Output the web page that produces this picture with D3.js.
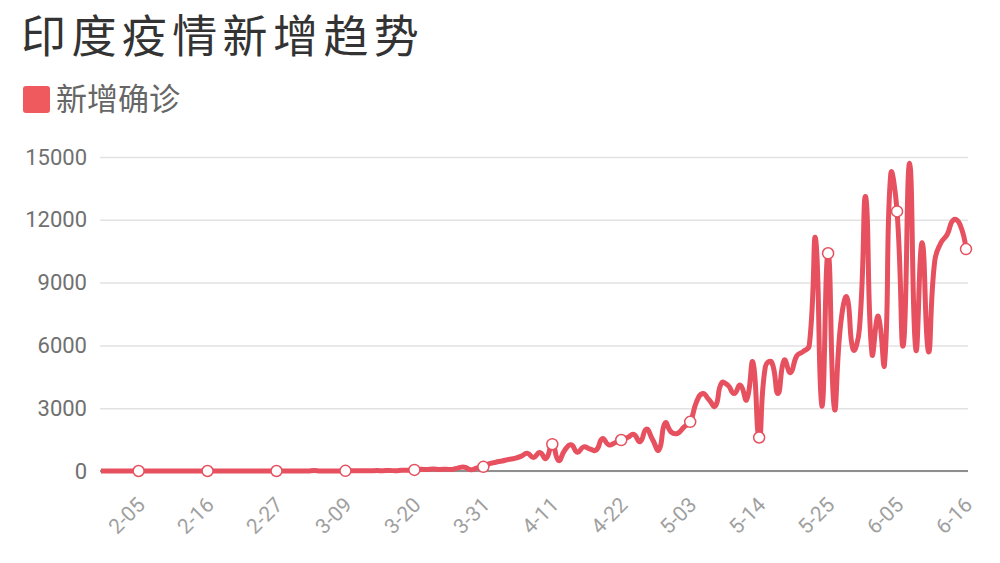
<!DOCTYPE html>
<html>
<head>
<meta charset="utf-8">
<script src="https://cdn.jsdelivr.net/npm/d3@7"></script>
<style>
  body { margin: 0; background: #fff; }
  svg { display: block; }
</style>
</head>
<body>
<svg id="main_chart" width="1000" height="563"></svg>
<script>
const chart_title = '印度疫情新增趋势';
const series_name = '新增确诊';
const first_day = '2020-01-30';
// daily new confirmed cases, one value per day from 1-30 to 6-16
const new_cases = [
  1, 0, 0, 1, 1, 0, 0, 0, 0, 0,
  0, 0, 0, 0, 0, 0, 0, 0, 0, 0,
  0, 0, 0, 0, 0, 0, 0, 0, 0, 0,
  0, 0, 2, 1, 22, 2, 1, 3, 5, 9,
  15, 8, 10, 9, 19, 15, 26, 11, 37, 34,
  50, 78, 69, 94, 74, 86, 75, 150, 180, 60,
  150, 200, 350, 420, 480, 550, 600, 700, 850, 650,
  880, 600, 1280, 500, 1000, 1250, 900, 1150, 1050, 1000,
  1550, 1250, 1350, 1480, 1600, 1750, 1400, 2000, 1500, 1000,
  2300, 1850, 1800, 2100, 2350, 3300, 3700, 3400, 3100, 4200,
  4100, 3700, 4100, 3400, 5200, 1600, 5000, 5200, 3700, 5300,
  4700, 5500, 5700, 6000, 11100, 3100, 10400, 3000, 7000, 8300,
  5800, 6800, 13100, 5600, 7400, 5100, 14200, 12400, 6000, 14700,
  5800, 10900, 5700, 10000, 10900, 11300, 12000, 11800, 10600
];
const tick_labels = ['2-05', '2-16', '2-27', '3-09', '3-20', '3-31', '4-11', '4-22', '5-03', '5-14', '5-25', '6-05', '6-16'];
const y_ticks = [0, 3000, 6000, 9000, 12000, 15000];

// smoothing like the original chart: control points follow the neighbour vector,
// split by segment length, and are kept inside the box of all points
function curveSoft(context) {
  let pts = [];
  return {
    areaStart: function() {},
    areaEnd: function() {},
    lineStart: function() { pts = []; },
    point: function(x, y) { pts.push([+x, +y]); },
    lineEnd: function() {
      const n = pts.length;
      if (!n) return;
      const smooth = 0.5;
      const minY = d3.min(pts, function(p) { return p[1]; });
      const maxY = d3.max(pts, function(p) { return p[1]; });
      const before = [], after = [];
      pts.forEach(function(p, i) {
        if (i === 0 || i === n - 1) {
          before.push(p); after.push(p);
          return;
        }
        const prev = pts[i - 1], next = pts[i + 1];
        const vx = next[0] - prev[0], vy = next[1] - prev[1];
        const d0 = Math.hypot(p[0] - prev[0], p[1] - prev[1]);
        const d1 = Math.hypot(next[0] - p[0], next[1] - p[1]);
        const r = d0 + d1 ? d1 / (d0 + d1) : 0.5;
        const clamp = function(v) { return Math.max(minY, Math.min(maxY, v)); };
        before.push([p[0] - vx * smooth * (1 - r), clamp(p[1] - vy * smooth * (1 - r))]);
        after.push([p[0] + vx * smooth * r, clamp(p[1] + vy * smooth * r)]);
      });
      context.moveTo(pts[0][0], pts[0][1]);
      for (let i = 1; i < n; i++) {
        context.bezierCurveTo(after[i - 1][0], after[i - 1][1], before[i][0], before[i][1], pts[i][0], pts[i][1]);
      }
    }
  };
}

(function() {
  const line_color = '#e6505f';
  const start = d3.timeParse('%Y-%m-%d')(first_day);
  const fmt_day = d3.timeFormat('%-m-%d');
  const days = new_cases.map(function(d, i) {
    return fmt_day(d3.timeDay.offset(start, i));
  });

  const xScale = d3.scalePoint().domain(days).range([101, 966]);
  const yScale = d3.scaleLinear().domain([0, 15000]).range([471, 157]);
  const svg = d3.select('#main_chart');

  svg.append('text').text(chart_title).attr('x', 21).attr('y', 53)
    .attr('font-family', 'Noto Sans CJK SC').attr('font-size', 45)
    .attr('letter-spacing', 5.4).attr('fill', '#333');

  const legend = svg.append('g').attr('id', 'legend');
  legend.append('rect').attr('x', 23).attr('y', 86).attr('width', 27).attr('height', 27)
    .attr('rx', 3).attr('fill', '#ef5a5e');
  legend.append('text').text(series_name).attr('x', 56).attr('y', 110)
    .attr('font-family', 'Noto Sans CJK SC').attr('font-size', 31).attr('fill', '#666');

  // y axis with grid lines
  const y_axis = svg.append('g').attr('transform', 'translate(100,0)')
    .call(d3.axisLeft(yScale).tickValues(y_ticks).tickFormat(d3.format('d')).tickSize(-868).tickPadding(13));
  y_axis.select('.domain').remove();
  y_axis.selectAll('line').attr('stroke', '#e2e2e2').attr('stroke-width', 1.5);
  y_axis.selectAll('text').attr('font-family', 'Roboto').attr('font-size', 22).attr('fill', '#707070');

  // x axis
  const x_axis = svg.append('g').attr('transform', 'translate(0,' + yScale(0) + ')')
    .call(d3.axisBottom(xScale).tickValues(tick_labels).tickSize(0).tickSizeOuter(0));
  x_axis.select('.domain').attr('d', 'M100,0H968').attr('stroke', '#8f8f8f').attr('stroke-width', 2);
  x_axis.selectAll('text').attr('y', 0).attr('dy', '0.35em')
    .attr('transform', 'translate(2,30) rotate(-45)').attr('text-anchor', 'end')
    .attr('font-family', 'Roboto').attr('font-size', 21).attr('fill', '#a0a0a0');

  const trend = d3.line().x(function(d, i) {
    return xScale(days[i]);
  }).y(function(d) {
    return yScale(d);
  }).curve(curveSoft);

  svg.append('path').datum(new_cases).attr('d', trend).attr('fill', 'none')
    .attr('stroke', line_color).attr('stroke-width', 5).attr('stroke-linejoin', 'round');

  const marked = days.map(function(d, i) {
    return { day: d, value: new_cases[i] };
  }).filter(function(d) {
    return tick_labels.indexOf(d.day) >= 0;
  });
  svg.selectAll('circle.marker').data(marked).enter().append('circle').attr('class', 'marker')
    .attr('cx', function(d) { return xScale(d.day); })
    .attr('cy', function(d) { return yScale(d.value); })
    .attr('r', 5.5).attr('fill', '#fff').attr('stroke', line_color).attr('stroke-width', 1.5);
}());
</script>
</body>
</html>
